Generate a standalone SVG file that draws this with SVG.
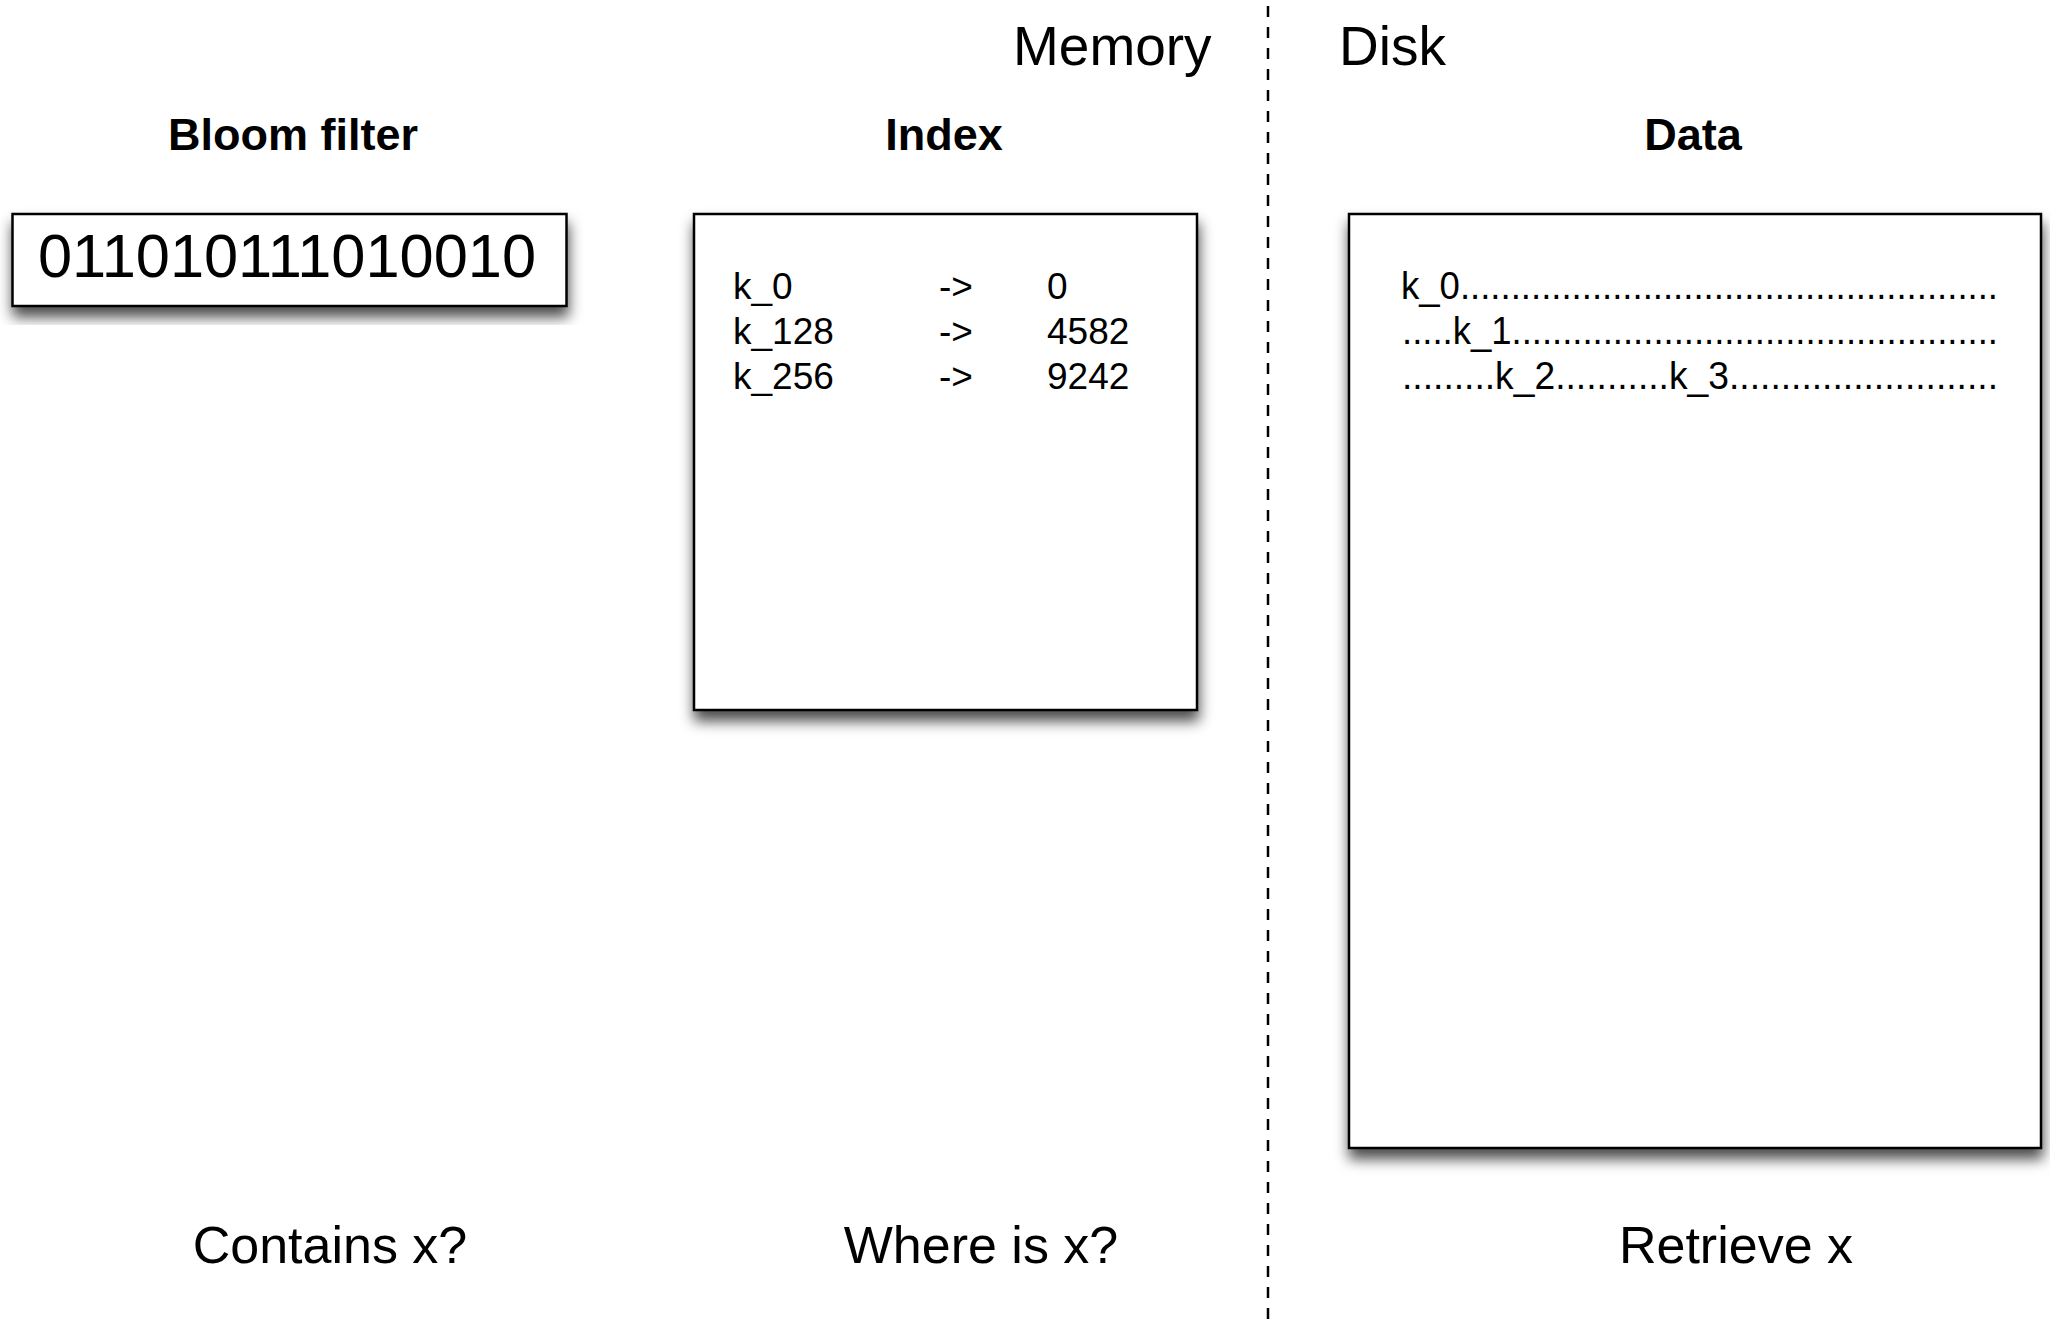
<svg xmlns="http://www.w3.org/2000/svg" width="2050" height="1325" viewBox="0 0 2050 1325">
  <style>
    text { font-family: "Liberation Sans", Arial, Helvetica, sans-serif; fill: #000; }
    .title { font-size: 45px; font-weight: bold; text-anchor: middle; }
    .zone { font-size: 55px; }
    .question { font-size: 52px; text-anchor: middle; }
    .bits { font-size: 61px; }
    .entry { font-size: 37px; }
    .rec { font-size: 38px; }
    .box { fill: #fff; stroke: #000; stroke-width: 2.5; filter: url(#shadow); }
    .divider { stroke: #000; stroke-width: 2.5; stroke-dasharray: 11 10; fill: none; }
  </style>
  <defs>
    <filter id="shadow" x="-10%" y="-10%" width="125%" height="130%">
      <feDropShadow dx="1" dy="10" stdDeviation="7" flood-color="#000" flood-opacity="0.7"/>
    </filter>
  </defs>

  <rect width="2050" height="1325" fill="#fff"/>

  <!-- memory / disk boundary -->
  <g id="connectors">
    <line class="divider" x1="1268" y1="6" x2="1268" y2="1320"/>
  </g>

  <text class="zone" x="1013" y="65">Memory</text>
  <text class="zone" x="1339" y="65">Disk</text>

  <!-- bloom filter -->
  <g id="bloom-filter">
    <text class="title" x="293" y="150">Bloom filter</text>
    <rect class="box" x="12.5" y="214" width="554" height="92"/>
    <text class="bits" x="38" y="277" textLength="498" lengthAdjust="spacingAndGlyphs">011010111010010</text>
    <text class="question" x="330" y="1263">Contains x?</text>
  </g>

  <!-- sparse index -->
  <g id="index">
    <text class="title" x="944" y="150">Index</text>
    <rect class="box" x="694" y="214" width="503" height="496"/>
    <text class="entry" x="733" y="299">k_0</text>
    <text class="entry" x="939" y="299">-&gt;</text>
    <text class="entry" x="1047" y="299">0</text>
    <text class="entry" x="733" y="344">k_128</text>
    <text class="entry" x="939" y="344">-&gt;</text>
    <text class="entry" x="1047" y="344">4582</text>
    <text class="entry" x="733" y="389">k_256</text>
    <text class="entry" x="939" y="389">-&gt;</text>
    <text class="entry" x="1047" y="389">9242</text>
    <text class="question" x="981" y="1263">Where is x?</text>
  </g>

  <!-- data file -->
  <g id="data">
    <text class="title" x="1693" y="150">Data</text>
    <rect class="box" x="1349" y="214" width="692" height="934"/>
    <text class="rec" x="1401" y="299" textLength="597" lengthAdjust="spacingAndGlyphs">k_0.....................................................</text>
    <text class="rec" x="1402" y="344" textLength="596" lengthAdjust="spacingAndGlyphs">.....k_1................................................</text>
    <text class="rec" x="1402" y="389" textLength="596" lengthAdjust="spacingAndGlyphs">.........k_2...........k_3..........................</text>
    <text class="question" x="1736" y="1263">Retrieve x</text>
  </g>
</svg>
